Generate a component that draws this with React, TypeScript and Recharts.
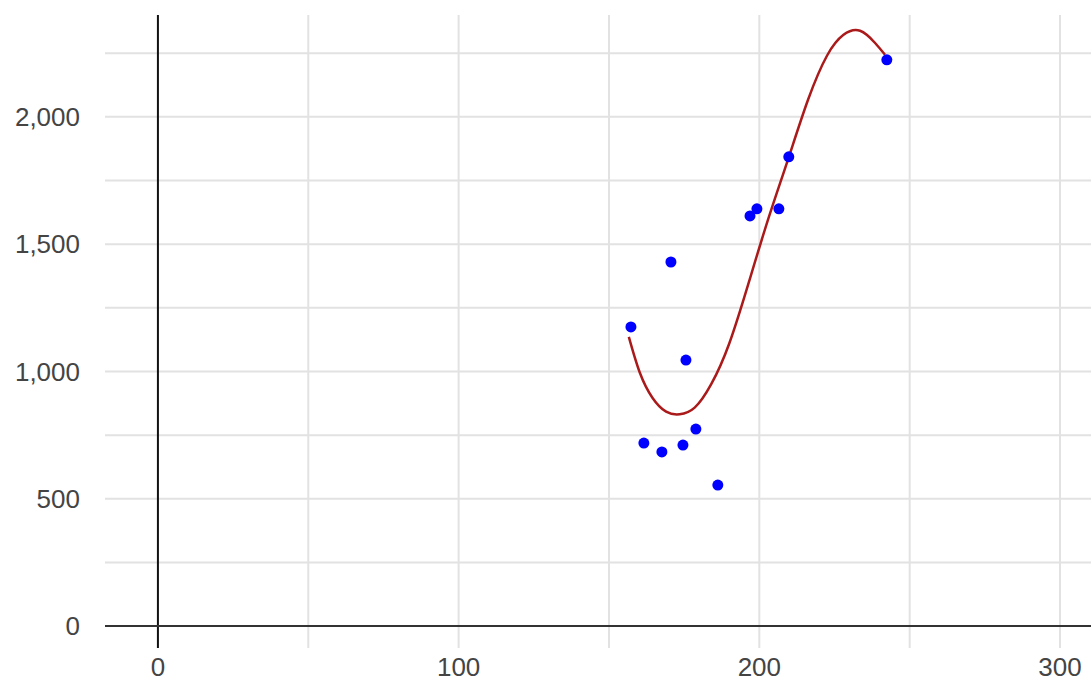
import {
  ComposedChart,
  Line,
  ReferenceLine,
  Scatter,
  XAxis,
  YAxis,
} from "recharts";

// Observed points
const pointX = [157.3, 161.6, 167.6, 170.6, 174.6, 175.6, 178.9, 186.2, 196.9, 199.2, 206.5, 209.8, 242.4];
const pointY = [1175, 719, 684, 1430, 711, 1045, 774, 554, 1611, 1639, 1639, 1843, 2224];

// Trendline
const trendX = [156.6, 160.3, 164.5, 169.0, 173.5, 178.5, 184.0, 190.0, 196.5, 203.0, 209.5, 216.2, 222.5, 228.0, 233.5, 238.5, 241.8];
const trendY = [1136, 994, 896, 842, 832, 858, 950, 1110, 1350, 1600, 1831, 2067, 2240, 2322, 2338, 2290, 2244];

const xTicks = [0, 100, 200, 300];
const yTicks = [0, 500, 1000, 1500, 2000];
const xGrid = [50, 100, 150, 200, 250, 300];
const yGrid = [250, 500, 750, 1000, 1250, 1500, 1750, 2000, 2250];

const points = pointX.map((x, i) => ({ x, y: pointY[i] }));
const trend = trendX.map((x, i) => ({ x, y: trendY[i] }));

const tickStyle = { fontSize: 26, fill: "#444", fontFamily: "'Liberation Sans', Arial, sans-serif" };

export default function App() {
  return (
    <div style={{ position: "absolute", left: 0, top: 0 }}>
      <ComposedChart width={1091} height={683} margin={{ top: 15, right: 0, bottom: 0, left: 0 }}>
        <XAxis
          type="number"
          dataKey="x"
          domain={[-17.6, 310.3]}
          allowDataOverflow
          ticks={xTicks}
          axisLine={false}
          tickLine={false}
          tickMargin={4}
          height={35}
          tick={tickStyle}
        />
        <YAxis
          type="number"
          dataKey="y"
          domain={[-86, 2400]}
          allowDataOverflow
          ticks={yTicks}
          axisLine={false}
          tickLine={false}
          tickMargin={19}
          width={105}
          tick={tickStyle}
          tickFormatter={(v: number) => v.toLocaleString("en-US")}
        />
        {xGrid.map((v) => (
          <ReferenceLine key={"gx" + v} x={v} stroke="#e2e2e2" strokeWidth={2} />
        ))}
        {yGrid.map((v) => (
          <ReferenceLine key={"gy" + v} y={v} stroke="#e2e2e2" strokeWidth={2} />
        ))}
        <ReferenceLine x={0} stroke="#111" strokeWidth={2} />
        <ReferenceLine y={0} stroke="#333" strokeWidth={2} />
        <Line
          data={trend}
          dataKey="y"
          type="natural"
          stroke="#aa1a1a"
          strokeWidth={2.5}
          dot={false}
          isAnimationActive={false}
        />
        <Scatter data={points} dataKey="y" fill="#0000ff" shape={(p: any) => <circle cx={p.cx} cy={p.cy} r={5.5} fill="#0000ff" />} isAnimationActive={false} />
      </ComposedChart>
    </div>
  );
}
